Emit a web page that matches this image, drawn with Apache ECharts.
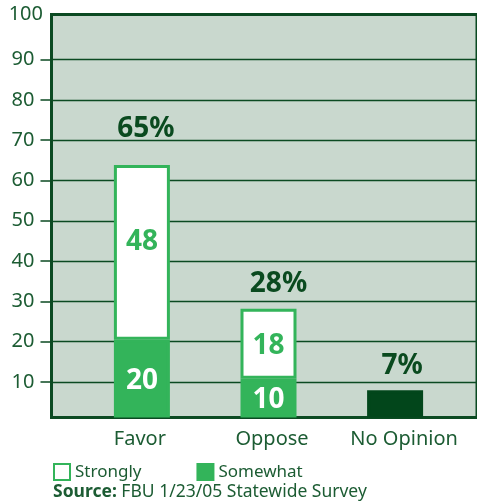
<!DOCTYPE html>
<html>
<head>
<meta charset="utf-8">
<script src="https://cdn.jsdelivr.net/npm/echarts@6/dist/echarts.min.js"></script>
<style>
html,body{margin:0;padding:0;background:#fff;}
#c{width:477px;height:504px;}
</style>
</head>
<body>
<div id="c"></div>
<script>
const categories = ['Favor', 'Oppose', 'No Opinion'];
const totals = [65, 28, 7];
const somewhat = [20, 10, null];
const stronglyLabels = [48, 18, null];
const noOpinion = [null, null, 7];
const yGridValues = [10, 20, 30, 40, 50, 60, 70, 80, 90];
const yTopLabel = [100];
const sourceText = 'FBU 1/23/05 Statewide Survey';

const DARK = '#0b4a22';
const TXT = '#1c5c33';
const GREEN = '#33b45a';
const FONT = '"Noto Sans", "Open Sans", sans-serif';

// strongly segment height = total minus somewhat
const strongly = totals.map((t, i) => (somewhat[i] == null ? null : t - somewhat[i]));

const totalLabelStyle = [
  { distance: 22, offset: [4, 0] },
  { distance: 11, offset: [10, 0] },
  { distance: 10, offset: [7, 0] }
];
const strongLabelOffset = [[0, -10], [0, 2], [0, 0]];
const catRich = {
  c0: { padding: [0, 4, 0, 0] },
  c1: { padding: [0, 0, 0, 7] },
  c2: { padding: [0, 0, 0, 18] }
};

const chart = echarts.init(document.getElementById('c'), null, { renderer: 'canvas' });
chart.setOption({
  animation: false,
  textStyle: { fontFamily: FONT },
  grid: [
    // plot background & frame
    { left: 51.5, right: -5, top: 14.5, bottom: 86.5, show: true, backgroundColor: '#c9d8ce', borderColor: DARK, borderWidth: 3 },
    // bars
    { left: 78.6, right: 18.6, top: 29, bottom: 86.5 },
    // gridlines 10..90
    { left: 51.5, right: -5, top: 59.5, bottom: 122 }
  ],
  xAxis: [
    { gridIndex: 0, type: 'value', show: false, min: 0, max: 1 },
    {
      gridIndex: 1, type: 'category', data: categories,
      axisLine: { show: false }, axisTick: { show: false },
      axisLabel: {
        interval: 0, fontSize: 20, color: TXT, margin: 12, fontFamily: FONT,
        formatter: (v, i) => '{c' + i + '|' + v + '}',
        rich: catRich
      }
    },
    { gridIndex: 2, type: 'value', show: false, min: 0, max: 1 }
  ],
  yAxis: [
    {
      gridIndex: 0, type: 'value', min: 0, max: 100, interval: 100,
      axisLine: { show: false }, axisTick: { show: false }, splitLine: { show: false },
      axisLabel: { fontSize: 20, color: TXT, margin: 8.5, fontFamily: FONT, customValues: yTopLabel }
    },
    { gridIndex: 1, type: 'value', min: 0, max: 100, show: false },
    {
      gridIndex: 2, type: 'value', min: 10, max: 90, interval: 10,
      axisLine: { show: false },
      axisTick: { show: true, length: 11, lineStyle: { color: DARK, width: 1.5 } },
      axisLabel: { fontSize: 20, color: TXT, margin: 17, fontFamily: FONT },
      splitLine: { show: true, lineStyle: { color: DARK, width: 1.3 } }
    }
  ],
  legend: {
    data: [
      { name: 'Strongly', itemStyle: { borderWidth: 2 } },
      { name: 'Somewhat' }
    ],
    left: 53, top: 463, padding: 0, icon: 'rect', itemWidth: 16, itemHeight: 16, itemGap: 55,
    textStyle: { fontSize: 17, color: TXT, fontFamily: FONT }
  },
  graphic: [{
    type: 'text', left: 53, top: 483,
    style: {
      text: '{b|Source:} ' + sourceText,
      font: '17.5px ' + FONT, fill: TXT,
      rich: { b: { fontWeight: 'bold', fontSize: 17.5, fill: TXT, fontFamily: FONT } }
    }
  }],
  series: [
    {
      name: 'Somewhat', type: 'bar', stack: 't', xAxisIndex: 1, yAxisIndex: 1, barWidth: 56,
      itemStyle: { color: GREEN, borderColor: GREEN, borderWidth: 3 },
      label: { show: true, position: 'inside', offset: [0, 2], color: '#fff', fontSize: 28, fontWeight: 'bold', fontFamily: FONT },
      data: somewhat.map(v => (v == null ? '-' : v))
    },
    {
      name: 'Strongly', type: 'bar', stack: 't', xAxisIndex: 1, yAxisIndex: 1, barWidth: 56,
      itemStyle: { color: '#ffffff', borderColor: GREEN, borderWidth: 3 },
      label: {
        show: true, position: 'inside', color: GREEN, fontSize: 28, fontWeight: 'bold', fontFamily: FONT,
        formatter: p => String(stronglyLabels[p.dataIndex])
      },
      data: strongly.map((v, i) => (v == null ? '-' : { value: v, label: { offset: strongLabelOffset[i] } }))
    },
    {
      name: 'No Opinion', type: 'bar', stack: 't', xAxisIndex: 1, yAxisIndex: 1, barWidth: 56,
      itemStyle: { color: '#02461b', borderColor: '#02461b', borderWidth: 3 },
      data: noOpinion.map(v => (v == null ? '-' : v))
    },
    {
      name: 'Total', type: 'scatter', xAxisIndex: 1, yAxisIndex: 1, symbolSize: 0,
      itemStyle: { opacity: 1 },
      emphasis: { disabled: true },
      label: {
        show: true, position: 'top', color: '#0a4a1f', fontSize: 28, fontWeight: 'bold', fontFamily: FONT,
        formatter: p => p.value + '%'
      },
      data: totals.map((v, i) => ({ value: v, label: totalLabelStyle[i] }))
    }
  ]
});
</script>
</body>
</html>
